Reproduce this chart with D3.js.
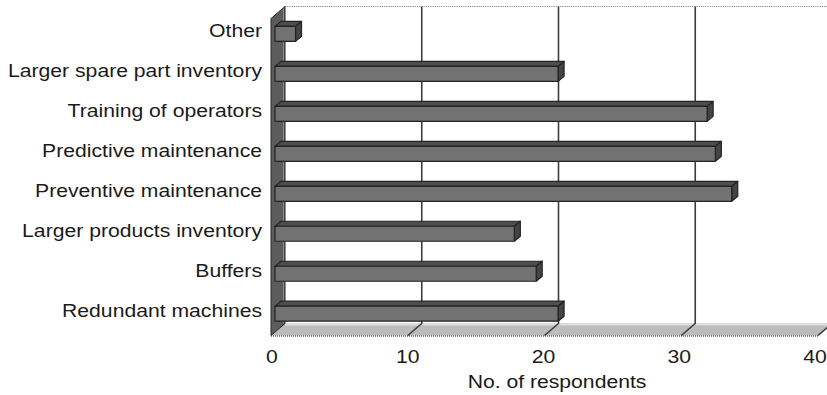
<!DOCTYPE html>
<html>
<head>
<meta charset="utf-8">
<script src="https://cdn.jsdelivr.net/npm/d3@7/dist/d3.min.js"></script>
<style>
  html, body { margin: 0; padding: 0; background: #fff; }
  svg { display: block; }
  text { font-family: "Liberation Sans", Arial, sans-serif; fill: #1a1a1a; }
</style>
</head>
<body>
<svg id="chart" width="827" height="395"></svg>
<script>
// Categories listed top to bottom, with the number of respondents for each
const categories = [
  "Other",
  "Larger spare part inventory",
  "Training of operators",
  "Predictive maintenance",
  "Preventive maintenance",
  "Larger products inventory",
  "Buffers",
  "Redundant machines"
];
const respondents = [1.5, 20.7, 31.6, 32.2, 33.4, 17.5, 19.1, 20.7];
const xTicks = [0, 10, 20, 30, 40];
const xTitle = "No. of respondents";

const svg = d3.select("#chart");

// 3D box: front plane and a back plane shifted by (DX, DY)
const DX = 14, DY = -12;
const frontTop = 18.5, frontBottom = 335.5;
const x = d3.scaleLinear().domain([0, 40]).range([271, 818]);   // front plane
const xb = v => x(v) + DX;                                      // back plane
// tick labels sit slightly inside the front edge
const xLabel = d3.scaleLinear().domain([0, 40]).range([272, 815]);

// Bars sit a little behind the front plane
const BAR_IN = 4;              // horizontal inset of the bar front face
const BAR_DX = 6, BAR_DY = -5; // bar depth
const BAR_H = 15;
const y = d3.scalePoint().domain(categories).range([33.9, 313.7]);

const FONT = 17.5;
const textScale = "scale(1.21,1)";

// back wall
svg.append("rect")
  .attr("x", xb(0)).attr("y", frontTop + DY)
  .attr("width", xb(40) - xb(0)).attr("height", frontBottom - frontTop)
  .attr("fill", "#fff");
svg.append("line")
  .attr("x1", xb(0)).attr("x2", xb(40))
  .attr("y1", frontTop + DY).attr("y2", frontTop + DY)
  .attr("stroke", "#8a8a8a").attr("stroke-width", 1.2)
  .attr("stroke-dasharray", "1.2,1");

// floor
const floorPts = [
  [x(0), frontBottom], [x(40), frontBottom],
  [xb(40), frontBottom + DY], [xb(0), frontBottom + DY]
];
svg.append("polygon")
  .attr("points", floorPts.map(p => p.join(",")).join(" "))
  .attr("fill", "#bcbcbc");
svg.append("line")
  .attr("x1", xb(0)).attr("x2", xb(40))
  .attr("y1", frontBottom + DY + 1).attr("y2", frontBottom + DY + 1)
  .attr("stroke", "#dedede").attr("stroke-width", 2);
svg.append("line")
  .attr("x1", x(0)).attr("x2", x(40))
  .attr("y1", frontBottom + 0.5).attr("y2", frontBottom + 0.5)
  .attr("stroke", "#5a5a5a").attr("stroke-width", 1.5)
  .attr("stroke-dasharray", "1,1");

// gridlines: up the back wall and across the floor
const grid = svg.append("g").attr("stroke", "#3c3c3c").attr("stroke-width", 1.6).attr("fill", "none");
xTicks.filter(v => v > 0).forEach(v => {
  grid.append("polyline")
    .attr("points", [
      [xb(v), frontTop + DY],
      [xb(v), frontBottom + DY],
      [x(v), frontBottom]
    ].map(p => p.join(",")).join(" "));
});

// left wall
svg.append("polygon")
  .attr("points", [
    [x(0), frontTop], [xb(0), frontTop + DY],
    [xb(0), frontBottom + DY], [x(0), frontBottom]
  ].map(p => p.join(",")).join(" "))
  .attr("fill", "#5c5c5c").attr("stroke", "#262626").attr("stroke-width", 1);
svg.append("line")
  .attr("x1", xb(0) - 1.5).attr("x2", xb(0) - 1.5)
  .attr("y1", frontTop + DY + 2).attr("y2", frontBottom + DY - 1)
  .attr("stroke", "#8c8c8c").attr("stroke-width", 1);

// bars
const bars = svg.append("g").attr("stroke", "#232323").attr("stroke-width", 1.2).attr("stroke-linejoin", "round");
categories.forEach((c, i) => {
  const x0 = x(0) + BAR_IN;
  const x1 = x(respondents[i]) + BAR_IN;
  const y0 = y(c) - BAR_H / 2;
  const y1 = y(c) + BAR_H / 2;
  const g = bars.append("g");
  // top face
  g.append("polygon")
    .attr("points", [[x0, y0], [x1, y0], [x1 + BAR_DX, y0 + BAR_DY], [x0 + BAR_DX, y0 + BAR_DY]]
      .map(p => p.join(",")).join(" "))
    .attr("fill", "#4e4e4e");
  // end face
  g.append("polygon")
    .attr("points", [[x1, y0], [x1 + BAR_DX, y0 + BAR_DY], [x1 + BAR_DX, y1 + BAR_DY], [x1, y1]]
      .map(p => p.join(",")).join(" "))
    .attr("fill", "#444");
  // front face
  g.append("rect")
    .attr("x", x0).attr("y", y0)
    .attr("width", x1 - x0).attr("height", BAR_H)
    .attr("fill", "#727272");
});

// category labels
svg.append("g").selectAll("text")
  .data(categories)
  .join("text")
  .attr("transform", d => `translate(262,${y(d) + 3.5}) ${textScale}`)
  .attr("text-anchor", "end")
  .attr("font-size", FONT)
  .text(d => d);

// value axis labels
svg.append("g").selectAll("text")
  .data(xTicks)
  .join("text")
  .attr("transform", d => `translate(${xLabel(d)},362.5) ${textScale}`)
  .attr("text-anchor", "middle")
  .attr("font-size", FONT)
  .text(d => d);

svg.append("text")
  .attr("transform", `translate(557,388) ${textScale}`)
  .attr("text-anchor", "middle")
  .attr("font-size", FONT)
  .text(xTitle);
</script>
</body>
</html>
